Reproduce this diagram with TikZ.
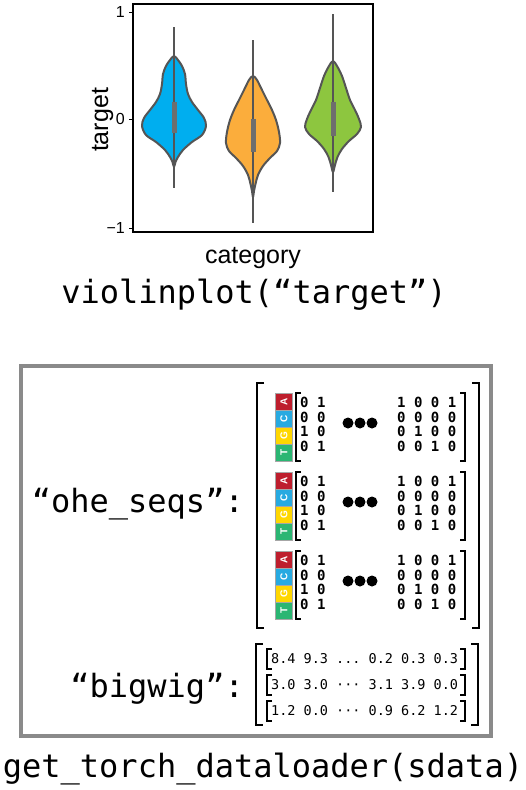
\documentclass[tikz,border=0pt]{standalone}
\usepackage{fontspec}
\setmainfont{Liberation Sans}
\setmonofont{DejaVu Sans Mono}

\definecolor{vblue}{RGB}{0,174,239}
\definecolor{vorange}{RGB}{251,173,60}
\definecolor{vgreen}{RGB}{141,198,63}
\definecolor{vgray}{RGB}{85,85,85}
\definecolor{boxgray}{RGB}{138,138,138}
\definecolor{ntA}{RGB}{190,30,45}
\definecolor{ntC}{RGB}{39,170,225}
\definecolor{ntG}{RGB}{255,215,0}
\definecolor{ntT}{RGB}{43,182,115}

\newcommand{\codefont}{\ttfamily\fontsize{32}{38}\selectfont}
\newcommand{\bitfont}{\ttfamily\bfseries\fontsize{14}{16}\selectfont}
\newcommand{\wigfont}{\ttfamily\fontsize{13.5}{16}\selectfont}
\newcommand{\wdots}{...}
\newcommand{\mdots}{···}

\begin{document}
\begin{tikzpicture}[x=1pt, y=-1pt,
  violin/.style={draw=vgray, line width=2pt, line join=round},
  whisker/.style={draw=vgray, line width=1.4pt},
  iqr/.style={fill=vgray!85},
  nt/.style={draw=gray!70, minimum size=17pt, inner sep=0pt, rotate=90, text=white,
    font=\bfseries\fontsize{10}{10}\selectfont},
  obr/.style={line width=2.6pt},
  ibr/.style={line width=2pt},
  wbr/.style={line width=1.1pt}]

  \useasboundingbox (0,0) rectangle (526,790);

  % Plot frame
  \draw[line width=1.3pt] (133,4) rectangle (373,232);
  \draw[line width=1pt] (129,12) -- (133,12) (129,119) -- (133,119) (129,228) -- (133,228);
  \node[anchor=east, font=\fontsize{16}{16}\selectfont, inner sep=1pt] (tick1) at (126,12) {1};
  \node[anchor=east, font=\fontsize{16}{16}\selectfont, inner sep=1pt] (tick0) at (126,119) {0};
  \node[anchor=east, font=\fontsize{16}{16}\selectfont, inner sep=1pt] (tickm) at (126,228) {−1};
  \node[anchor=base, rotate=90, font=\fontsize{25}{30}\selectfont] (ylab) at (108,120) {target};
  \node[anchor=base, font=\fontsize{25}{30}\selectfont] (xlab) at (253,263) {category};

  % Violin 1
  \draw[violin, fill=vblue] plot[smooth cycle, tension=0.55] coordinates {
    (174,56) (178,60) (182,66) (185,74) (186,84) (188,94) (192,102) (198,110) (204,118) (206,126)
    (202,135) (192,142) (183,150) (178,157) (175.5,162) (174,167)
    (172.5,162) (170,157) (165,150) (156,142) (146,135) (142,126) (144,118) (150,110) (156,102)
    (160,94) (162,84) (163,74) (166,66) (170,60)};
  \draw[whisker] (174,27) -- (174,188);
  \fill[iqr] (171.5,102) rectangle (176.5,133);

  % Violin 2
  \draw[violin, fill=vorange] plot[smooth cycle, tension=0.55] coordinates {
    (253,76) (257,80) (262,90) (267,100) (272,110) (276,120) (279,132) (280,143) (277,151)
    (270,158) (263,166) (258,175) (255.5,184) (254,191) (253,197)
    (252,191) (250.5,184) (248,175) (243,166) (236,158) (229,151) (226,143) (227,132)
    (230,120) (234,110) (239,100) (244,90) (249,80)};
  \draw[whisker] (253,40) -- (253,223);
  \fill[iqr] (250.5,119) rectangle (255.5,152);

  % Violin 3
  \draw[violin, fill=vgreen] plot[smooth cycle, tension=0.55] coordinates {
    (333,61) (337,66) (342,76) (346,88) (350,100) (355,110) (359,119) (361,127) (357,134)
    (349,141) (342,149) (337.5,157) (335,165) (333,172)
    (331,165) (328.5,157) (324,149) (317,141) (309,134) (305,127) (307,119) (311,110)
    (316,100) (320,88) (324,76) (329,66)};
  \draw[whisker] (333,14) -- (333,192);
  \fill[iqr] (330.5,102) rectangle (335.5,136);

  \node[anchor=base, font=\codefont] (vcall) at (254,303) {violinplot(“target”)};

  % Sample box
  \draw[boxgray, line width=4pt] (21,366) rectangle (491,736);
  \node[anchor=base east, font=\codefont, inner sep=0pt] (ohe) at (244,512) {“ohe\_seqs”:};
  \node[anchor=base east, font=\codefont, inner sep=0pt] (wig) at (244,697) {“bigwig”:};

  % One-hot sequences
  \draw[obr] (264,383) -- (257,383) -- (257,628) -- (264,628);
  \draw[obr] (472,383) -- (479,383) -- (479,628) -- (472,628);
  \foreach \yb [count=\k] in {393,472,551} {
    \foreach \b/\c [count=\i] in {A/ntA, C/ntC, G/ntG, T/ntT}
      \node[nt, fill=\c] (nt\k\b) at (284,\yb+17*\i-8.5) {\b};
    \draw[ibr] (301,\yb) -- (296,\yb) -- (296,\yb+68) -- (301,\yb+68);
    \draw[ibr] (460,\yb) -- (465,\yb) -- (465,\yb+68) -- (460,\yb+68);
    \foreach \l/\r [count=\j] in {{0 1}/{1 0 0 1}, {0 0}/{0 0 0 0}, {1 0}/{0 1 0 0}, {0 1}/{0 0 1 0}} {
      \node[anchor=base west, font=\bitfont, inner sep=0pt] (lb\k\j) at (300,\yb+14.6*\j) {\l};
      \node[anchor=base west, font=\bitfont, inner sep=0pt] (rb\k\j) at (397,\yb+14.6*\j) {\r};
    }
    \foreach \dx in {348,360,372}
      \fill (\dx,\yb+30) circle[radius=5.5pt];
  }

  % Bigwig
  \draw[obr] (263,644) -- (256,644) -- (256,725) -- (263,725);
  \draw[obr] (471,644) -- (478,644) -- (478,725) -- (471,725);
  \foreach \yr/\txt [count=\j] in {659/{8.4 9.3 \wdots{} 0.2 0.3 0.3}, 685/{3.0 3.0 \mdots{} 3.1 3.9 0.0}, 711/{1.2 0.0 \mdots{} 0.9 6.2 1.2}} {
    \draw[wbr] (272,\yr-10) -- (267,\yr-10) -- (267,\yr+10) -- (272,\yr+10);
    \draw[wbr] (460,\yr-10) -- (465,\yr-10) -- (465,\yr+10) -- (460,\yr+10);
    \node[anchor=west, font=\wigfont, inner sep=0pt] (row\j) at (271,\yr) {\txt};
  }

  \node[anchor=base, font=\codefont] (dl) at (263,777) {get\_torch\_dataloader(sdata)};

\end{tikzpicture}
\end{document}
